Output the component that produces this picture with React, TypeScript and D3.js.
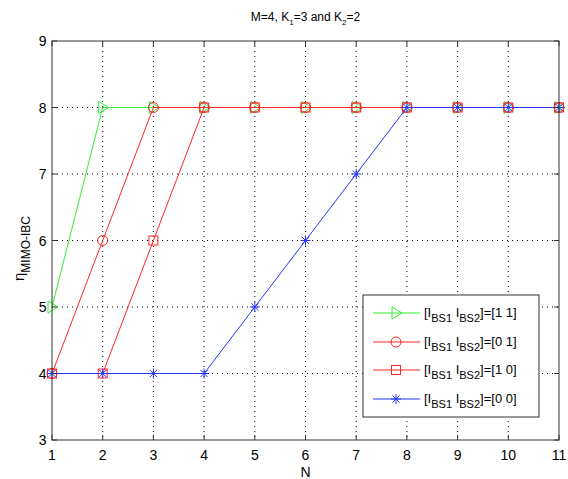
import React from 'react';
import * as d3 from 'd3';

const nValues = [1, 2, 3, 4, 5, 6, 7, 8, 9, 10, 11];
const xTicks = [1, 2, 3, 4, 5, 6, 7, 8, 9, 10, 11];
const yTicks = [3, 4, 5, 6, 7, 8, 9];

const eta11 = [5, 8, 8, 8, 8, 8, 8, 8, 8, 8, 8];
const eta01 = [4, 6, 8, 8, 8, 8, 8, 8, 8, 8, 8];
const eta10 = [4, 4, 6, 8, 8, 8, 8, 8, 8, 8, 8];
const eta00 = [4, 4, 4, 4, 5, 6, 7, 8, 8, 8, 8];

const legendValues = ['[1 1]', '[0 1]', '[1 0]', '[0 0]'];

type Marker = 'triangle' | 'circle' | 'square' | 'star';

interface Series {
  values: number[];
  color: string;
  marker: Marker;
  label: string;
}

const series: Series[] = [
  { values: eta11, color: '#33ee33', marker: 'triangle', label: legendValues[0] },
  { values: eta01, color: '#ff2525', marker: 'circle', label: legendValues[1] },
  { values: eta10, color: '#ff2525', marker: 'square', label: legendValues[2] },
  { values: eta00, color: '#2535ff', marker: 'star', label: legendValues[3] },
];

const W = 568;
const H = 479;
const margin = { top: 41, right: 9, bottom: 39, left: 52 };
const font = '"Liberation Sans", Arial, sans-serif';

const MarkerShape: React.FC<{ kind: Marker; x: number; y: number; color: string }> = ({ kind, x, y, color }) => {
  if (kind === 'triangle') {
    return <path d={`M${x - 4},${y - 6}L${x + 6},${y}L${x - 4},${y + 6}Z`} fill="none" stroke={color} strokeWidth={1} />;
  }
  if (kind === 'circle') {
    return <circle cx={x} cy={y} r={5} fill="none" stroke={color} strokeWidth={1} />;
  }
  if (kind === 'square') {
    return <rect x={x - 4.5} y={y - 4.5} width={9} height={9} fill="none" stroke={color} strokeWidth={1} />;
  }
  const r = 5;
  const d = r * 0.72;
  return (
    <path
      d={`M${x},${y - r}L${x},${y + r}M${x - d},${y - d}L${x + d},${y + d}M${x - d},${y + d}L${x + d},${y - d}M${x - r},${y}L${x + r},${y}`}
      stroke={color}
      strokeWidth={1}
      fill="none"
    />
  );
};

const App: React.FC = () => {
  const x = d3.scaleLinear().domain([1, 11]).range([margin.left, W - margin.right]);
  const y = d3.scaleLinear().domain([3, 9]).range([H - margin.bottom, margin.top]);

  const line = d3
    .line<[number, number]>()
    .x(d => x(d[0]))
    .y(d => y(d[1]));

  const left = x(1);
  const right = x(11);
  const top = y(9);
  const bottom = y(3);

  const legend = { x: 363, y: 295, w: 176, h: 122 };
  const rowY = [313, 342, 370, 399];

  return (
    <svg
      width={W}
      height={H}
      style={{ position: 'absolute', left: 0, top: 0, background: '#fff', fontFamily: font }}
    >
      <rect x={0} y={0} width={W} height={H} fill="#fff" />

      {/* grid */}
      {xTicks.slice(1, -1).map(t => (
        <line key={`gx${t}`} x1={x(t)} x2={x(t)} y1={top} y2={bottom} stroke="#000" strokeWidth={1} strokeDasharray="1,4" />
      ))}
      {yTicks.slice(1, -1).map(t => (
        <line key={`gy${t}`} x1={left} x2={right} y1={y(t)} y2={y(t)} stroke="#000" strokeWidth={1} strokeDasharray="1,4" />
      ))}

      {/* series */}
      {series.map((s, i) => {
        const pts: [number, number][] = nValues.map((n, j) => [n, s.values[j]]);
        return (
          <g key={`s${i}`}>
            <path d={line(pts) || ''} fill="none" stroke={s.color} strokeWidth={1} />
            {pts.map((p, j) => (
              <MarkerShape key={j} kind={s.marker} x={x(p[0])} y={y(p[1])} color={s.color} />
            ))}
          </g>
        );
      })}

      {/* frame */}
      <rect x={left} y={top} width={right - left} height={bottom - top} fill="none" stroke="#333" strokeWidth={1} />

      {/* ticks */}
      {xTicks.map(t => (
        <g key={`tx${t}`}>
          <line x1={x(t)} x2={x(t)} y1={bottom} y2={bottom - 5} stroke="#333" />
          <line x1={x(t)} x2={x(t)} y1={top} y2={top + 5} stroke="#333" />
          <text x={x(t)} y={bottom + 20} textAnchor="middle" fontSize={14} fill="#000">{t}</text>
        </g>
      ))}
      {yTicks.map(t => (
        <g key={`ty${t}`}>
          <line x1={left} x2={left + 5} y1={y(t)} y2={y(t)} stroke="#333" />
          <line x1={right} x2={right - 5} y1={y(t)} y2={y(t)} stroke="#333" />
          <text x={left - 5.5} y={y(t) + 5} textAnchor="end" fontSize={14} fill="#000">{t}</text>
        </g>
      ))}

      {/* title */}
      <text x={(left + right) / 2} y={21} textAnchor="middle" fontSize={12} fill="#000">
        M=4, K<tspan fontSize={8} dy={4}>1</tspan><tspan dy={-4}>=3 and K</tspan><tspan fontSize={8} dy={4}>2</tspan><tspan dy={-4}>=2</tspan>
      </text>

      {/* axis labels */}
      <text x={(left + right) / 2} y={477} textAnchor="middle" fontSize={14} fill="#000">N</text>
      <text transform={`translate(24,${(top + bottom) / 2 + 8}) rotate(-90)`} textAnchor="middle" fontSize={15} fill="#000">
        η<tspan fontSize={12} dy={6}>MIMO-IBC</tspan>
      </text>

      {/* legend */}
      <rect x={legend.x} y={legend.y} width={legend.w} height={legend.h} fill="#fff" stroke="#333" strokeWidth={1} />
      {series.map((s, i) => (
        <g key={`l${i}`}>
          <line x1={373} x2={420} y1={rowY[i]} y2={rowY[i]} stroke={s.color} strokeWidth={1} />
          <MarkerShape kind={s.marker} x={396} y={rowY[i]} color={s.color} />
          <text x={424} y={rowY[i] + 4} fontSize={13} fill="#000">
            [I<tspan fontSize={11} dy={5}>BS1</tspan>
            <tspan dy={-5}> I</tspan>
            <tspan fontSize={11} dy={5}>BS2</tspan>
            <tspan dy={-5}>]={s.label}</tspan>
          </text>
        </g>
      ))}
    </svg>
  );
};

export default App;
